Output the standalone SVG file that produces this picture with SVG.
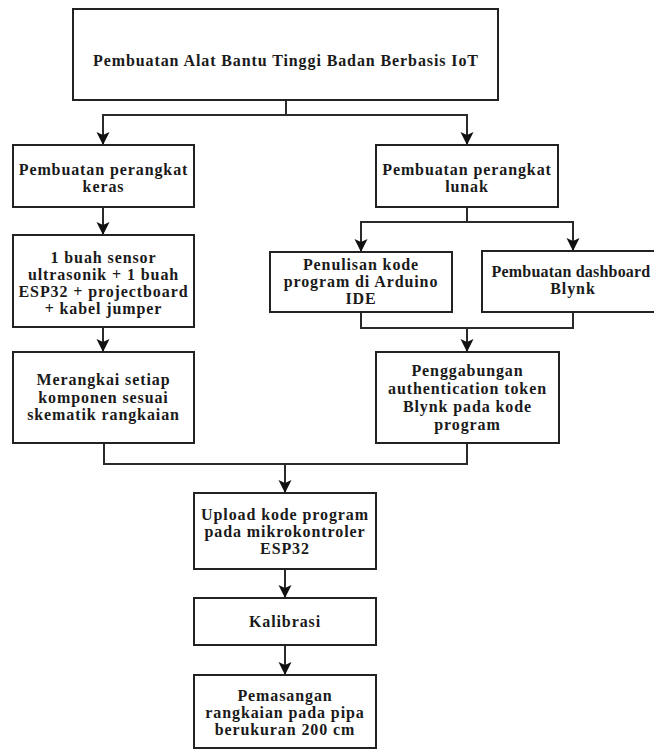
<svg xmlns="http://www.w3.org/2000/svg" width="654" height="749" viewBox="0 0 654 749">
<style>
.box{fill:#fff;stroke:#222;stroke-width:2}
.t{font-family:"Liberation Serif",serif;font-weight:bold;font-size:16px;letter-spacing:0.9px;fill:#1a1a1a;text-anchor:middle}
.c{fill:none;stroke:#2a2a2a;stroke-width:2}
</style>
<defs>
<marker id="ah" markerUnits="userSpaceOnUse" markerWidth="14" markerHeight="14" refX="13" refY="6.5" orient="auto">
<path d="M0,0 L13,6.5 L0,13 L3,6.5 z" fill="#111"/>
</marker>
</defs>
<rect width="654" height="749" fill="#fff"/>
<g id="connectors">
<path class="c" d="M286,100 V115 H103 V145" marker-end="url(#ah)"/>
<path class="c" d="M286,115 H467 V145" marker-end="url(#ah)"/>
<path class="c" d="M103,207 V235" marker-end="url(#ah)"/>
<path class="c" d="M103,327 V352" marker-end="url(#ah)"/>
<path class="c" d="M467,207 V222 H361 V252" marker-end="url(#ah)"/>
<path class="c" d="M467,222 H573 V251" marker-end="url(#ah)"/>
<path class="c" d="M361,312 V328 H573 V312"/>
<path class="c" d="M467,328 V352" marker-end="url(#ah)"/>
<path class="c" d="M104,443 V464 H467 V443"/>
<path class="c" d="M285,464 V493" marker-end="url(#ah)"/>
<path class="c" d="M285,569 V598" marker-end="url(#ah)"/>
<path class="c" d="M285,645 V675" marker-end="url(#ah)"/>
</g>
<g id="n-title">
<rect class="box" x="73" y="9" width="425" height="91"/>
<text class="t" x="286" y="66">Pembuatan Alat Bantu Tinggi Badan Berbasis IoT</text>
</g>
<g id="n-keras">
<rect class="box" x="13" y="145" width="181" height="62"/>
<text class="t" x="103.5" y="175">Pembuatan perangkat</text>
<text class="t" x="103.5" y="192">keras</text>
</g>
<g id="n-sensor">
<rect class="box" x="13" y="235" width="181" height="92"/>
<text class="t" x="103.5" y="263">1 buah sensor</text>
<text class="t" x="103.5" y="280">ultrasonik + 1 buah</text>
<text class="t" x="103.5" y="297">ESP32 + projectboard</text>
<text class="t" x="103.5" y="314">+ kabel jumper</text>
</g>
<g id="n-merangkai">
<rect class="box" x="13" y="352" width="181" height="91"/>
<text class="t" x="103.5" y="385">Merangkai setiap</text>
<text class="t" x="103.5" y="403">komponen sesuai</text>
<text class="t" x="103.5" y="420">skematik rangkaian</text>
</g>
<g id="n-lunak">
<rect class="box" x="376" y="145" width="182" height="62"/>
<text class="t" x="467" y="175">Pembuatan perangkat</text>
<text class="t" x="467" y="192">lunak</text>
</g>
<g id="n-penulisan">
<rect class="box" x="270" y="252" width="182" height="60"/>
<text class="t" x="361" y="270">Penulisan kode</text>
<text class="t" x="361" y="287">program di Arduino</text>
<text class="t" x="361" y="304">IDE</text>
</g>
<g id="n-blynk">
<rect class="box" x="482" y="251" width="182" height="61"/>
<text class="t" x="571" y="277" style="letter-spacing:0.2px">Pembuatan dashboard</text>
<text class="t" x="573" y="294">Blynk</text>
</g>
<g id="n-penggabungan">
<rect class="box" x="376" y="352" width="183" height="91"/>
<text class="t" x="467.5" y="376">Penggabungan</text>
<text class="t" x="467.5" y="394">authentication token</text>
<text class="t" x="467.5" y="412">Blynk pada kode</text>
<text class="t" x="467.5" y="430">program</text>
</g>
<g id="n-upload">
<rect class="box" x="194" y="493" width="182" height="76"/>
<text class="t" x="285" y="520">Upload kode program</text>
<text class="t" x="285" y="537">pada mikrokontroler</text>
<text class="t" x="285" y="554">ESP32</text>
</g>
<g id="n-kalibrasi">
<rect class="box" x="194" y="598" width="182" height="47"/>
<text class="t" x="285" y="627">Kalibrasi</text>
</g>
<g id="n-pemasangan">
<rect class="box" x="194" y="675" width="182" height="73"/>
<text class="t" x="285" y="701">Pemasangan</text>
<text class="t" x="285" y="718">rangkaian pada pipa</text>
<text class="t" x="285" y="735">berukuran 200 cm</text>
</g>
</svg>
